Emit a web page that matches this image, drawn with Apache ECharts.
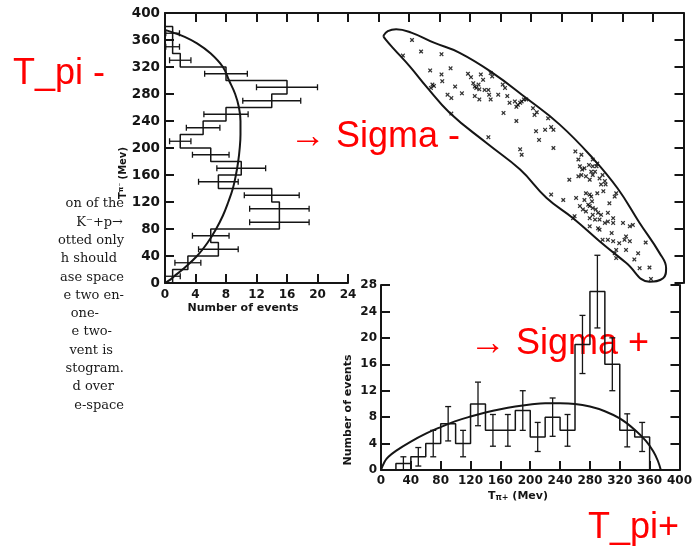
<!DOCTYPE html>
<html>
<head>
<meta charset="utf-8">
<script src="https://cdn.jsdelivr.net/npm/echarts@6/dist/echarts.min.js"></script>
<style>
  html, body { margin: 0; padding: 0; background: #fff; }
  #container { width: 695px; height: 550px; }
</style>
</head>
<body>
<div id="container"></div>
<script>
// bins are 20 MeV wide, starting at 0
const binWidth = 20

// T_pi- projection (left histogram), events per bin
const piMinusCounts = [1, 3, 7, 6, 15, 15, 14, 7, 10, 6, 2, 5, 8, 14, 16, 8, 2, 1, 1]
const piMinusErrors = [1, 1.7, 2.6, 2.4, 3.9, 3.9, 3.6, 2.6, 3.2, 2.4, 1.4, 2.2, 2.9, 3.8, 4, 2.8, 1.4, 0.9, 0.9]

// T_pi+ projection (bottom histogram)
const piPlusCounts = [0, 1, 2, 4, 7, 4, 10, 6, 6, 9, 5, 8, 6, 19, 27, 16, 6, 5]
const piPlusErrors = [0, 1, 1.4, 2, 2.6, 2, 3.3, 2.4, 2.4, 3, 2.2, 2.9, 2.4, 4.4, 5.5, 4, 2.5, 2.2]

// phase space curves
const curveMinusT = [0, 5, 10, 20, 40, 60, 80, 100, 120, 140, 160, 180, 200, 220, 240, 260, 280, 300, 320, 340, 355, 365, 371, 375]
const curveMinusN = [0, 0.7, 1.2, 2.3, 4.2, 5.6, 6.7, 7.6, 8.3, 8.9, 9.3, 9.6, 9.8, 9.9, 9.9, 9.7, 9.2, 8.4, 7.6, 6.0, 4.2, 2.5, 1.1, 0]
const curvePlusT = [0, 5, 10, 20, 40, 60, 80, 100, 120, 140, 160, 180, 200, 220, 240, 260, 280, 300, 320, 340, 355, 365, 371, 375]
const curvePlusN = [0, 1.3, 2.0, 2.9, 4.3, 5.5, 6.5, 7.4, 8.1, 8.7, 9.2, 9.6, 9.9, 10.1, 10.1, 10.0, 9.6, 8.9, 7.8, 6.1, 4.4, 2.8, 1.4, 0]

// Dalitz plot boundary (T_pi+, T_pi-)
const boundaryPlus = [3, 9, 20, 40, 70, 104, 148, 192, 236, 280, 313, 342, 368, 377, 373, 355, 324, 289, 254, 219, 184, 140, 91, 60, 38, 16, 6, 3]
const boundaryMinus = [366, 373, 376, 371, 356, 341, 311, 274, 235, 185, 140, 89, 45, 22, 7, 2, 30, 62, 96, 126, 168, 207, 252, 291, 321, 348, 361, 366]

// individual events (T_pi+, T_pi-)
const eventsPlus = [41, 29, 53, 80, 65, 80, 66, 68, 70, 81, 92, 98, 88, 93, 107, 115, 119, 122, 124, 126,
  129, 130, 132, 135, 137, 142, 145, 147, 143, 145, 124, 130, 155, 161, 164, 167, 162, 177, 179, 181,
  184, 186, 189, 179, 192, 201, 203, 206, 221, 217, 225, 228, 205, 209, 142, 93, 184, 186, 228, 257,
  265, 263, 266, 269, 275, 280, 285, 283, 265, 271, 276, 280, 289, 296, 291, 297, 249, 225, 241, 258,
  271, 276, 278, 286, 311, 309, 302, 263, 267, 271, 274, 276, 280, 284, 287, 291, 280, 276, 283, 289,
  300, 307, 300, 307, 256, 254, 276, 289, 287, 320, 329, 333, 324, 322, 293, 300, 307, 311, 309, 315,
  324, 340, 350, 311, 342, 355, 357, 261, 280, 286, 294, 269, 279, 296, 305, 329, 335, 293, 278, 261, 170]
const eventsMinus = [360, 337, 343, 339, 315, 309, 289, 294, 292, 299, 318, 291, 279, 274, 281, 310, 305, 296, 291, 289,
  294, 287, 309, 301, 286, 286, 311, 306, 279, 272, 277, 272, 279, 294, 289, 277, 252, 269, 261, 264,
  267, 269, 272, 240, 272, 259, 249, 253, 244, 227, 231, 227, 225, 212, 216, 251, 198, 190, 200, 195,
  190, 173, 168, 170, 175, 173, 173, 165, 160, 158, 153, 160, 155, 151, 146, 146, 153, 131, 123, 126,
  133, 131, 128, 133, 133, 128, 118, 114, 109, 106, 116, 114, 111, 109, 104, 101, 101, 96, 94, 94,
  104, 96, 91, 89, 99, 96, 84, 79, 81, 89, 84, 86, 69, 64, 64, 64, 62, 49, 44, 59,
  49, 44, 60, 37, 22, 23, 6, 183, 183, 177, 136, 123, 121, 89, 74, 62, 35, 160, 165, 158, 267]

// caption fragment on the left (cut off in the scan)
const captionLines = ['on of the', 'K\u207B+p\u2192', 'otted only', 'h should', 'ase space', 'e two en-',
  'one-', 'e two-', 'vent is', 'stogram.', 'd over', 'e-space']
const captionRight = [128, 127, 128, 121, 128, 128, 103, 116, 117, 128, 118, 128]

const ink = '#151515'
const labelFont = { color: ink, fontFamily: 'DejaVu Sans', fontWeight: 'bold', fontSize: 12 }

function stepOutline (counts, vertical) {
  const pts = [[0, 0]]
  counts.forEach((c, i) => {
    pts.push([i * binWidth, c], [(i + 1) * binWidth, c])
  })
  pts.push([counts.length * binWidth, 0])
  return vertical ? pts.map(p => [p[1], p[0]]) : pts
}

function errorData (counts, errors, vertical) {
  const out = []
  counts.forEach((c, i) => {
    if (!errors[i]) return
    const mid = i * binWidth + binWidth / 2
    out.push(vertical ? [c, mid, errors[i]] : [mid, c, errors[i]])
  })
  return out
}

function renderErr (horizontal) {
  return function (params, api) {
    const a = api.value(0), b = api.value(1), e = api.value(2)
    const p1 = horizontal ? api.coord([a - e, b]) : api.coord([a, b - e])
    const p2 = horizontal ? api.coord([a + e, b]) : api.coord([a, b + e])
    const cap = 3
    const st = { stroke: ink, lineWidth: 1.3 }
    const caps = horizontal
      ? [[p1[0], p1[1] - cap, p1[0], p1[1] + cap], [p2[0], p2[1] - cap, p2[0], p2[1] + cap]]
      : [[p1[0] - cap, p1[1], p1[0] + cap, p1[1]], [p2[0] - cap, p2[1], p2[0] + cap, p2[1]]]
    return {
      type: 'group',
      children: [
        { type: 'line', shape: { x1: p1[0], y1: p1[1], x2: p2[0], y2: p2[1] }, style: st },
        ...caps.map(c => ({ type: 'line', shape: { x1: c[0], y1: c[1], x2: c[2], y2: c[3] }, style: st }))
      ]
    }
  }
}

function frameAxis (extra) {
  return Object.assign({
    type: 'value',
    axisLine: { show: true, onZero: false, lineStyle: { color: ink, width: 2 } },
    axisTick: { show: true, inside: true, length: 9, lineStyle: { color: ink, width: 2 } },
    axisLabel: { show: false },
    splitLine: { show: false }
  }, extra)
}

const dom = document.getElementById('container')
const myChart = echarts.init(dom)

const redFont = '36px "Liberation Sans", Arial, sans-serif'
const graphics = [
  { type: 'text', x: 13, y: 74, style: { text: 'T_pi -', font: redFont, fill: '#ff0000', verticalAlign: 'middle' } },
  { type: 'text', x: 290, y: 137, style: { text: '\u2192 Sigma -', font: redFont, fill: '#ff0000', verticalAlign: 'middle' } },
  { type: 'text', x: 470, y: 344, style: { text: '\u2192 Sigma +', font: redFont, fill: '#ff0000', verticalAlign: 'middle' } },
  { type: 'text', x: 588, y: 528, style: { text: 'T_pi+', font: redFont, fill: '#ff0000', verticalAlign: 'middle' } },
  // rotated axis names
  {
    type: 'text', x: 123, y: 173, rotation: Math.PI / 2,
    style: {
      text: '{t|T}{s|\u03C0\u207B}{t| (Mev)}', align: 'center', verticalAlign: 'middle',
      rich: {
        t: { font: 'bold 10px "DejaVu Sans"', fill: ink },
        s: { font: 'bold 7px "DejaVu Sans"', fill: ink, verticalAlign: 'top' }
      }
    }
  },
  {
    type: 'text', x: 348, y: 410, rotation: Math.PI / 2,
    style: { text: 'Number of events', font: 'bold 11px "DejaVu Sans"', fill: ink, align: 'center', verticalAlign: 'middle' }
  },
  {
    type: 'text', x: 243, y: 308,
    style: { text: 'Number of events', font: 'bold 11px "DejaVu Sans"', fill: ink, align: 'center', verticalAlign: 'middle' }
  },
  {
    type: 'text', x: 518, y: 496,
    style: {
      text: '{t|T}{s|\u03C0+}{t| (Mev)}', align: 'center', verticalAlign: 'middle',
      rich: {
        t: { font: 'bold 11px "DejaVu Sans"', fill: ink },
        s: { font: 'bold 8px "DejaVu Sans"', fill: ink, verticalAlign: 'bottom' }
      }
    }
  }
]
captionLines.forEach((t, i) => {
  graphics.push({
    type: 'text', x: captionRight[i] - 4, y: 204 + i * 18.3,
    style: { text: t, font: '13px "DejaVu Serif", serif', fill: '#1a1a1a', align: 'right', verticalAlign: 'middle' }
  })
})

const option = {
  animation: false,
  backgroundColor: '#ffffff',
  grid: [
    { left: 165, top: 13, width: 183, height: 270 },
    { left: 165, top: 13, width: 518.5, height: 270 },
    { left: 381, top: 13, width: 302.5, height: 270 },
    { left: 381, top: 285, width: 302.5, height: 185 }
  ],
  xAxis: [
    frameAxis({ gridIndex: 0, min: 0, max: 24, interval: 4, position: 'bottom',
      axisLabel: Object.assign({ show: true, margin: 6 }, labelFont) }),
    frameAxis({ gridIndex: 1, min: 0, max: 68, interval: 4, position: 'top' }),
    { type: 'value', gridIndex: 2, min: 0, max: 400, show: false },
    frameAxis({ gridIndex: 3, min: 0, max: 400, interval: 40, position: 'bottom',
      axisLabel: Object.assign({ show: true, margin: 5 }, labelFont) })
  ],
  yAxis: [
    frameAxis({ gridIndex: 0, min: 0, max: 400, interval: 40, position: 'left',
      axisLabel: Object.assign({ show: true, margin: 5 }, labelFont, { fontSize: 13.5 }) }),
    frameAxis({ gridIndex: 1, min: 0, max: 400, interval: 40, position: 'right' }),
    { type: 'value', gridIndex: 2, min: 0, max: 400, show: false },
    frameAxis({ gridIndex: 3, min: 0, max: 28, interval: 4, position: 'left',
      axisLabel: Object.assign({ show: true, margin: 4 }, labelFont) }),
    frameAxis({ gridIndex: 3, min: 0, max: 28, interval: 4, position: 'right' })
  ],
  graphic: graphics,
  series: [
    {
      type: 'line', xAxisIndex: 0, yAxisIndex: 0, data: stepOutline(piMinusCounts, true),
      symbol: 'none', lineStyle: { color: ink, width: 1.5 }
    },
    {
      type: 'custom', xAxisIndex: 0, yAxisIndex: 0, data: errorData(piMinusCounts, piMinusErrors, true),
      renderItem: renderErr(true)
    },
    {
      type: 'line', xAxisIndex: 0, yAxisIndex: 0, smooth: 0.4, symbol: 'none',
      data: curveMinusT.map((t, i) => [curveMinusN[i], t]),
      lineStyle: { color: ink, width: 2 }
    },
    {
      type: 'line', xAxisIndex: 2, yAxisIndex: 2, smooth: 0.45, symbol: 'none',
      data: boundaryPlus.map((t, i) => [t, boundaryMinus[i]]),
      lineStyle: { color: ink, width: 2 }
    },
    {
      type: 'scatter', xAxisIndex: 2, yAxisIndex: 2,
      data: eventsPlus.map((t, i) => [t, eventsMinus[i]]),
      symbol: 'path://M0 2L2 0L5 3L8 0L10 2L7 5L10 8L8 10L5 7L2 10L0 8L3 5Z',
      symbolSize: 4.5, itemStyle: { color: '#000' }
    },
    {
      type: 'line', xAxisIndex: 3, yAxisIndex: 3, data: stepOutline(piPlusCounts, false),
      symbol: 'none', lineStyle: { color: ink, width: 1.5 }
    },
    {
      type: 'custom', xAxisIndex: 3, yAxisIndex: 3, clip: false, data: errorData(piPlusCounts, piPlusErrors, false),
      renderItem: renderErr(false)
    },
    {
      type: 'line', xAxisIndex: 3, yAxisIndex: 3, smooth: 0.4, symbol: 'none',
      data: curvePlusT.map((t, i) => [t, curvePlusN[i]]),
      lineStyle: { color: ink, width: 2 }
    }
  ]
}

myChart.setOption(option)
</script>
</body>
</html>
